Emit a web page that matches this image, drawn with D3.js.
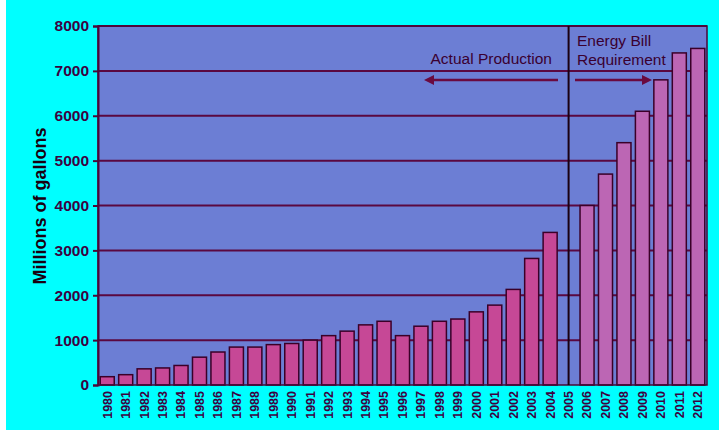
<!DOCTYPE html>
<html><head><meta charset="utf-8">
<script src="https://cdn.jsdelivr.net/npm/d3@7"></script>
<style>html,body{margin:0;padding:0;background:#00ffff;overflow:hidden;width:719px;height:430px;}svg{display:block;}</style>
</head><body>
<svg id="c" width="719" height="430"></svg>
<script>
const years = ["1980","1981","1982","1983","1984","1985","1986","1987","1988","1989","1990","1991","1992","1993","1994","1995","1996","1997","1998","1999","2000","2001","2002","2003","2004","2005","2006","2007","2008","2009","2010","2011","2012"];
const actual = [185,230,360,380,435,620,735,845,845,900,925,1000,1100,1200,1340,1420,1100,1310,1420,1470,1630,1780,2130,2820,3400,null,null,null,null,null,null,null,null];
const required = [null,null,null,null,null,null,null,null,null,null,null,null,null,null,null,null,null,null,null,null,null,null,null,null,null,null,4000,4700,5400,6100,6800,7400,7500];
const yTicks = [0,1000,2000,3000,4000,5000,6000,7000,8000];
const yTitle = "Millions of gallons";
const leftNote = "Actual Production";
const rightNote = ["Energy Bill","Requirement"];
const dividerYear = "2005";

const svg = d3.select("#c");
const m = {l:98, r:707, t:26, b:385};
svg.append("rect").attr("x",0).attr("y",0).attr("width",719).attr("height",430).attr("fill","#00ffff");
svg.append("rect").attr("x",0).attr("y",0).attr("width",6).attr("height",430).attr("fill","#ffffff");

const x = d3.scaleBand().domain(years).range([m.l,m.r]).paddingInner(0.24).paddingOuter(0.12);
const y = d3.scaleLinear().domain([0,8000]).range([m.b,m.t]);

svg.append("rect").attr("x",m.l).attr("y",m.t).attr("width",m.r-m.l).attr("height",m.b-m.t).attr("fill","#6c7ed4");

// gridlines
svg.append("g").selectAll("line").data(yTicks.slice(1)).join("line")
  .attr("x1",m.l).attr("x2",m.r).attr("y1",d=>y(d)).attr("y2",d=>y(d))
  .attr("stroke","#5a0840").attr("stroke-width",2);

// bars
svg.append("g").selectAll("rect").data(years.map((yr,i)=>({yr,v:actual[i]})).filter(d=>d.v!=null)).join("rect")
  .attr("x",d=>x(d.yr)).attr("width",x.bandwidth())
  .attr("y",d=>y(d.v)).attr("height",d=>y(0)-y(d.v))
  .attr("fill","#c64896").attr("stroke","#3a0028").attr("stroke-width",1.5);
svg.append("g").selectAll("rect").data(years.map((yr,i)=>({yr,v:required[i]})).filter(d=>d.v!=null)).join("rect")
  .attr("x",d=>x(d.yr)).attr("width",x.bandwidth())
  .attr("y",d=>y(d.v)).attr("height",d=>y(0)-y(d.v))
  .attr("fill","#bc66b4").attr("stroke","#3a0028").attr("stroke-width",1.5);

// frame
svg.append("rect").attr("x",m.l).attr("y",m.t).attr("width",m.r-m.l).attr("height",m.b-m.t)
  .attr("fill","none").attr("stroke","#4a0838").attr("stroke-width",1.5);

// divider
const dx = x(dividerYear)+x.bandwidth()/2;
svg.append("line").attr("x1",dx).attr("x2",dx).attr("y1",m.t).attr("y2",m.b).attr("stroke","#1a0010").attr("stroke-width",2);

const af = "Liberation Sans, Arial, sans-serif";
// y axis
const ya = svg.append("g").attr("transform",`translate(${m.l},0)`)
  .call(d3.axisLeft(y).tickValues(yTicks).tickSize(5).tickPadding(4).tickFormat(d3.format("d")));
ya.select(".domain").attr("stroke","#4a0838").attr("stroke-width",2);
ya.selectAll(".tick line").attr("stroke","#4a0838").attr("stroke-width",2);
ya.selectAll("text").attr("font-family",af).attr("font-size",15.5).attr("font-weight","bold").attr("fill","#3c0040");

// x axis
const xa = svg.append("g").attr("transform",`translate(0,${m.b})`)
  .call(d3.axisBottom(x).tickSize(0).tickPadding(0));
xa.select(".domain").remove();
xa.selectAll("text").attr("font-family",af).attr("font-size",12.5).attr("font-weight","bold").attr("fill","#3c0040")
  .attr("transform","rotate(-90)").attr("text-anchor","end").attr("dy","0.35em").attr("x",-6).attr("y",0);

// y title
svg.append("text").attr("transform","translate(46,206) rotate(-90)").attr("text-anchor","middle")
  .attr("font-family",af).attr("font-size",18).attr("font-weight","bold").attr("fill","#1a0010")
  .text(yTitle);

// annotations
svg.append("text").attr("x",552).attr("y",64).attr("text-anchor","end").attr("font-family",af).attr("font-size",15.5).attr("fill","#3a0030").text(leftNote);
svg.append("text").attr("x",577).attr("y",46).attr("font-family",af).attr("font-size",15.5).attr("fill","#3a0030").text(rightNote[0]);
svg.append("text").attr("x",577).attr("y",65).attr("font-family",af).attr("font-size",15.5).attr("fill","#3a0030").text(rightNote[1]);

const ay = 80;
svg.append("line").attr("x1",558).attr("x2",432).attr("y1",ay).attr("y2",ay).attr("stroke","#6a0a40").attr("stroke-width",2.5);
svg.append("path").attr("d",`M424,${ay} L434,${ay-5} L434,${ay+5} Z`).attr("fill","#6a0a40");
svg.append("line").attr("x1",575).attr("x2",644).attr("y1",ay).attr("y2",ay).attr("stroke","#6a0a40").attr("stroke-width",2.5);
svg.append("path").attr("d",`M652,${ay} L642,${ay-5} L642,${ay+5} Z`).attr("fill","#6a0a40");
</script>
</body></html>
